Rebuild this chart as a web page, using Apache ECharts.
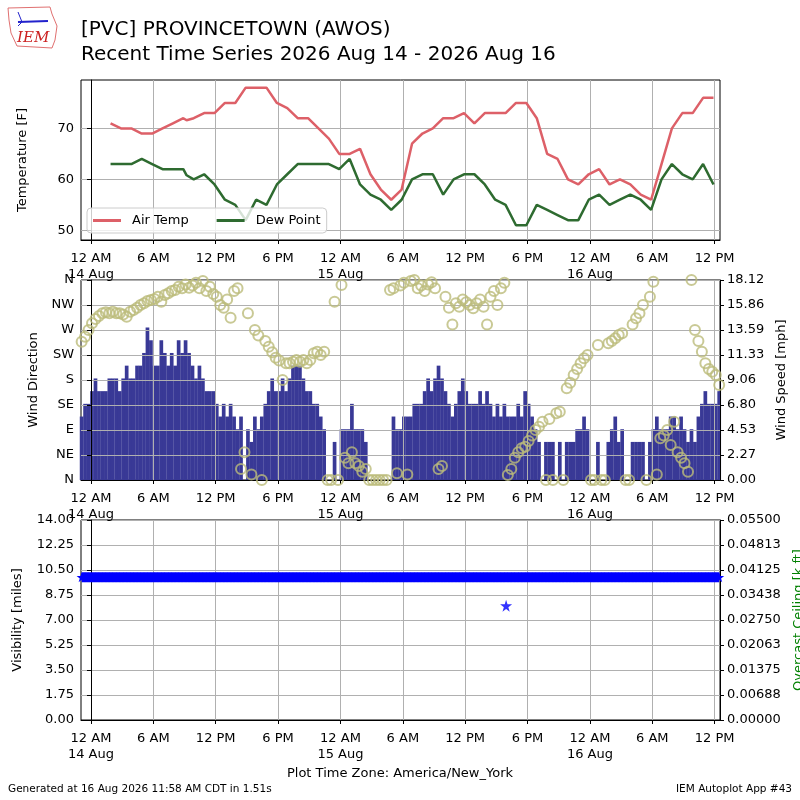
<!DOCTYPE html>
<html>
<head>
<meta charset="utf-8">
<script src="https://cdn.jsdelivr.net/npm/echarts@6/dist/echarts.min.js"></script>
<style>
html, body { margin: 0; padding: 0; background: #fff; }
#chart { width: 800px; height: 800px; }
</style>
</head>
<body>
<div id="chart"></div>
<script>
const FONT = "DejaVu Sans";

// hourly obs (plus one special) — "day hh:mm", Aug 2026, local time
const tempTimes = [
  "14 01:53", "14 02:53", "14 03:53", "14 04:53", "14 05:53", "14 06:53", "14 07:53", "14 08:53", "14 09:12", "14 09:53", "14 10:53", "14 11:53",
  "14 12:53", "14 13:53", "14 14:53", "14 15:53", "14 16:53", "14 17:53", "14 18:53", "14 19:53", "14 20:53", "14 21:53", "14 22:53", "14 23:53",
  "15 00:53", "15 01:53", "15 02:53", "15 03:53", "15 04:53", "15 05:53", "15 06:53", "15 07:53", "15 08:53", "15 09:53", "15 10:53", "15 11:53",
  "15 12:53", "15 13:53", "15 14:53", "15 15:53", "15 16:53", "15 17:53", "15 18:53", "15 19:53", "15 20:53", "15 21:53", "15 22:53", "15 23:53",
  "16 00:53", "16 01:53", "16 02:53", "16 03:53", "16 04:53", "16 05:53", "16 06:53", "16 07:53", "16 08:53", "16 09:53", "16 10:53", "16 11:53"
];
const airTemp = [
  71, 70, 70, 69, 69, 70, 71, 72, 71.6, 72, 73, 73,
  75, 75, 78, 78, 78, 75, 74, 72, 72, 70, 68, 65,
  65, 66, 61, 58, 56, 58, 67, 69, 70, 72, 72, 73,
  71, 73, 73, 73, 75, 75, 72, 65, 64, 60, 59, 61,
  62, 59, 60, 59, 57, 56, 63, 70, 73, 73, 76, 76
];
const dewPoint = [
  63, 63, 63, 64, 63, 62, 62, 62, 60.8, 60, 61, 59,
  56, 55, 52, 56, 55, 59, 61, 63, 63, 63, 63, 62,
  64, 59, 57, 56, 54, 56, 60, 61, 61, 57, 60, 61,
  61, 59, 56, 55, 51, 51, 55, 54, 53, 52, 52, 56,
  57, 55, 56, 57, 56, 54, 60, 63, 61, 60, 63, 59
];

// 20 minute wind / visibility obs starting 13 Aug 23:06
const obsStart = "13 23:06";
const obsStepMinutes = 20;
const windSpeed = [ // mph, 4 hours per row
  5.75, 6.9, 6.9, 8.05, 9.2, 8.05, 8.05, 8.05, 9.2, 9.2, 9.2, 8.05,
  9.2, 10.36, 9.2, 9.2, 10.36, 10.36, 11.51, 13.81, 12.66, 10.36, 10.36, 12.66,
  11.51, 10.36, 11.51, 10.36, 12.66, 11.51, 12.66, 11.51, 10.36, 9.2, 10.36, 9.2,
  8.05, 8.05, 8.05, 6.9, 5.75, 6.9, 5.75, 6.9, 5.75, 4.6, 5.75, 0,
  4.6, 3.45, 5.75, 4.6, 5.75, 6.9, 8.05, 9.2, 8.05, 8.05, 9.2, 8.05,
  9.2, 10.36, 10.36, 10.36, 9.2, 8.05, 8.05, 6.9, 6.9, 5.75, 4.6, 0,
  0, 3.45, 0, 4.6, 4.6, 4.6, 6.9, 4.6, 4.6, 4.6, 3.45, 0,
  0, 0, 0, 0, 0, 0, 5.75, 4.6, 4.6, 5.75, 5.75, 5.75,
  6.9, 6.9, 6.9, 8.05, 9.2, 8.05, 9.2, 10.36, 9.2, 8.05, 6.9, 5.75,
  6.9, 8.05, 9.2, 8.05, 6.9, 6.9, 6.9, 8.05, 6.9, 8.05, 6.9, 5.75,
  6.9, 5.75, 6.9, 5.75, 5.75, 5.75, 6.9, 5.75, 8.05, 6.9, 5.75, 4.6,
  3.45, 0, 3.45, 3.45, 3.45, 0, 3.45, 0, 3.45, 3.45, 3.45, 4.6,
  4.6, 5.75, 4.6, 0, 0, 3.45, 0, 0, 3.45, 4.6, 5.75, 3.45,
  4.6, 0, 0, 3.45, 3.45, 3.45, 3.45, 0, 3.45, 4.6, 5.75, 4.6,
  4.6, 4.6, 5.75, 5.75, 4.6, 5.75, 4.6, 3.45, 4.6, 3.45, 5.75, 6.9,
  8.05, 6.9, 6.9, 6.9, 8.05
];
const windDir = [ // degrees
  249, 258, 270, 282, 290, 295, 300, 302, 300, 303, 300, 300,
  298, 294, 303, 306, 310, 315, 318, 322, 324, 326, 330, 321,
  333, 336, 340, 342, 348, 345, 352, 346, 350, 355, 345, 358,
  340, 348, 335, 330, 315, 310, 325, 292, 340, 345, 20, 50,
  300, 10, 270, 260, 0, 250, 240, 230, 220, 215, 180, 210,
  210, 213, 216, 213, 216, 210, 216, 228, 231, 225, 231, 0,
  0, 321, 0, 351, 40, 30, 50, 30, 25, 15, 20, 0,
  0, 0, 0, 0, 0, 342, 345, 12, 350, 355, 10, 358,
  360, 345, 350, 340, 352, 356, 345, 20, 25, 330, 310, 280,
  318, 312, 325, 320, 315, 309, 318, 325, 312, 280, 330, 340,
  315, 345, 355, 9, 20, 40, 50, 57, 60, 70, 80, 90,
  96, 105, 0, 110, 0, 120, 123, 0, 165, 175, 189, 200,
  210, 219, 225, 0, 0, 243, 0, 0, 246, 250, 255, 261,
  264, 0, 0, 280, 291, 300, 315, 0, 330, 357, 10, 75,
  80, 90, 63, 105, 50, 40, 30, 15, 360, 270, 250, 231,
  210, 200, 195, 189, 171
];
const visibility = [ // miles
  10, 10, 10, 10, 10, 10, 10, 10, 10, 10, 10, 10, 10, 10, 10, 10, 10, 10, 10, 10, 10, 10, 10, 10, 10, 10, 10, 10, 10, 10, 10, 10, 10, 10, 10, 10, 10,
  10, 10, 10, 10, 10, 10, 10, 10, 10, 10, 10, 10, 10, 10, 10, 10, 10, 10, 10, 10, 10, 10, 10, 10, 10, 10, 10, 10, 10, 10, 10, 10, 10, 10, 10, 10, 10,
  10, 10, 10, 10, 10, 10, 10, 10, 10, 10, 10, 10, 10, 10, 10, 10, 10, 10, 10, 10, 10, 10, 10, 10, 10, 10, 10, 10, 10, 10, 10, 10, 10, 10, 10, 10, 10,
  10, 10, 10, 10, 10, 10, 10, 10, 10, 10, 10, 10, 10, 10, 10, 10, 10, 10, 10, 10, 10, 10, 10, 10, 10, 10, 10, 10, 10, 10, 10, 10, 10, 10, 10, 10, 10,
  10, 10, 10, 10, 10, 10, 10, 10, 10, 10, 10, 10, 10, 10, 10, 10, 10, 10, 10, 10, 10, 10, 10, 10, 10, 10, 10, 10, 10, 10, 10, 10, 10, 10, 10, 10, 10
];
const visSpecialTimes = ["15 15:56"];
const visSpecialValues = [8];

// axes
const timeTicks = [0, 6, 12, 18, 24, 30, 36, 42, 48, 54, 60];
const tempTicks = [50, 60, 70];
const dirLabels = ["N", "NE", "E", "SE", "S", "SW", "W", "NW", "N"];
const speedLabels = ["0.00", "2.27", "4.53", "6.80", "9.06", "11.33", "13.59", "15.86", "18.12"];
const ceilingLabels = ["0.00000", "0.00688", "0.01375", "0.02063", "0.02750", "0.03438", "0.04125", "0.04813", "0.05500"];
const X_MIN = -0.96, X_MAX = 60.51;

const STAR = "path://M50,0 L61,35 L98,35 L68,57 L79,91 L50,70 L21,91 L32,57 L2,35 L39,35 Z";
const LEGEND_LINE = "path://M0,0 H28 V3 H0 Z";

const toHours = s => {
  const [d, hm] = s.split(" ");
  const [h, m] = hm.split(":").map(Number);
  return (Number(d) - 14) * 24 + h + m / 60;
};
const obsTime = k => toHours(obsStart) + k * obsStepMinutes / 60;

const timeLabel = v => {
  const hour = ((v % 24) + 24) % 24;
  const day = 14 + Math.floor(v / 24);
  const clock = hour === 0 ? "12 AM" : hour < 12 ? `${hour} AM` : hour === 12 ? "12 PM" : `${hour - 12} PM`;
  return hour === 0 ? `${clock}\n${day} Aug` : clock;
};

const gridLine = { show: true, lineStyle: { color: "#b0b0b0", width: 1 } };
const black = { lineStyle: { color: "#000", width: 1 } };
const label = { color: "#000", fontSize: 13, fontFamily: FONT };
const axisName = { color: "#000", fontSize: 13, fontFamily: FONT };

const grids = [
  { top: 80, height: 160 },
  { top: 280, height: 200 },
  { top: 520, height: 200 }
].map(g => ({ ...g, left: 81, right: 80, show: true, borderColor: "#000", borderWidth: 1, outerBoundsMode: "none" }));

const xAxes = [0, 1, 2].map(i => ({
  type: "value", gridIndex: i, min: X_MIN, max: X_MAX, z: 3,
  axisLine: { onZero: false, ...black },
  axisTick: { customValues: timeTicks, length: 4, ...black },
  axisLabel: { ...label, customValues: timeTicks, formatter: timeLabel, lineHeight: 16.5, margin: 10 },
  splitLine: gridLine
}));

const yAxes = [
  { type: "value", gridIndex: 0, min: 48.1, max: 79.5, z: 3,
    axisLine: black, axisTick: { customValues: tempTicks, length: 4, ...black },
    axisLabel: { ...label, customValues: tempTicks, margin: 7 }, splitLine: gridLine,
    name: "Temperature [F]", nameLocation: "middle", nameRotate: 90, nameGap: 52, nameTextStyle: axisName },
  { type: "value", gridIndex: 1, min: 0, max: 360, interval: 45, z: 3,
    axisLine: black, axisTick: { length: 4, ...black },
    axisLabel: { ...label, margin: 7, formatter: v => dirLabels[Math.round(v / 45)] }, splitLine: gridLine,
    name: "Wind Direction", nameLocation: "middle", nameRotate: 90, nameGap: 40, nameTextStyle: axisName },
  { type: "value", gridIndex: 1, position: "right", min: 0, max: 18.12, interval: 2.265, z: 3,
    axisLine: black, axisTick: { length: 4, ...black },
    axisLabel: { ...label, margin: 7, formatter: v => speedLabels[Math.round(v / 2.265)] }, splitLine: { show: false },
    name: "Wind Speed [mph]", nameLocation: "middle", nameRotate: 90, nameGap: 54, nameTextStyle: axisName },
  { type: "value", gridIndex: 2, min: 0, max: 14, interval: 1.75, z: 3,
    axisLine: black, axisTick: { length: 4, ...black },
    axisLabel: { ...label, margin: 7, formatter: v => v.toFixed(2) }, splitLine: gridLine,
    name: "Visibility [miles]", nameLocation: "middle", nameRotate: 90, nameGap: 57, nameTextStyle: axisName },
  { type: "value", gridIndex: 2, position: "right", min: 0, max: 0.055, interval: 0.006875, z: 3,
    axisLine: black, axisTick: { length: 4, ...black },
    axisLabel: { ...label, margin: 7, formatter: v => ceilingLabels[Math.round(v / 0.006875)] }, splitLine: { show: false },
    name: "Overcast Ceiling [k ft]", nameLocation: "middle", nameRotate: 90, nameGap: 71, nameTextStyle: { ...axisName, color: "#008000" } }
];

const text = (x, y, str, size, extra = {}) => ({
  type: "text", x, y, z: 10,
  style: { text: str, fill: "#000", font: `${size}px '${FONT}'`, verticalAlign: "middle", ...extra }
});

const chart = echarts.init(document.getElementById("chart"), null, { renderer: "canvas" });
chart.setOption({
  animation: false,
  backgroundColor: "#fff",
  textStyle: { fontFamily: FONT },
  grid: grids,
  xAxis: xAxes,
  yAxis: yAxes,
  legend: {
    data: [{ name: "Air Temp", icon: LEGEND_LINE }, { name: "Dew Point", icon: LEGEND_LINE }],
    left: 87, top: 208, padding: [5, 6], itemWidth: 28, itemHeight: 3, itemGap: 28,
    backgroundColor: "rgba(255,255,255,0.8)", borderColor: "#cccccc", borderWidth: 1, borderRadius: 4,
    textStyle: { fontSize: 13, color: "#000", fontFamily: FONT, padding: [0, 0, 0, 6], lineHeight: 15 }
  },
  graphic: [
    text(81, 30, "[PVC] PROVINCETOWN (AWOS)", 20),
    text(81, 55, "Recent Time Series 2026 Aug 14 - 2026 Aug 16", 20),
    text(400, 774, "Plot Time Zone: America/New_York", 13, { align: "center" }),
    text(8, 789, "Generated at 16 Aug 2026 11:58 AM CDT in 1.51s", 10.5),
    text(792, 789, "IEM Autoplot App #43", 10.5, { align: "right" }),
    { type: "polygon", z: 10, shape: { points: [[8, 8], [50, 7], [52, 14], [57, 26], [55, 40], [52, 48], [17, 46], [11, 33], [9, 20]] },
      style: { fill: "none", stroke: "#e07070", lineWidth: 1 } },
    { type: "polyline", z: 10, shape: { points: [[18, 22], [48, 21]] }, style: { stroke: "#2222cc", lineWidth: 2 } },
    { type: "polyline", z: 10, shape: { points: [[18, 12], [22, 22], [18, 26]] }, style: { fill: "none", stroke: "#2222cc", lineWidth: 1 } },
    text(17, 38, "IEM", 15, { fill: "#cc2222", font: "italic 15px 'DejaVu Serif'" })
  ],
  series: [
    { name: "Air Temp", type: "line", xAxisIndex: 0, yAxisIndex: 0, symbol: "none",
      data: tempTimes.map((t, i) => [toHours(t), airTemp[i]]),
      lineStyle: { color: "#dd6068", width: 2.5 }, itemStyle: { color: "#dd6068" } },
    { name: "Dew Point", type: "line", xAxisIndex: 0, yAxisIndex: 0, symbol: "none",
      data: tempTimes.map((t, i) => [toHours(t), dewPoint[i]]),
      lineStyle: { color: "#2e6b30", width: 2.5 }, itemStyle: { color: "#2e6b30" } },
    { name: "Wind Speed", type: "bar", xAxisIndex: 1, yAxisIndex: 2, barWidth: 3.7, z: 2,
      data: windSpeed.map((v, k) => [obsTime(k), v]),
      itemStyle: { color: "#393996" } },
    { name: "Wind Direction", type: "scatter", xAxisIndex: 1, yAxisIndex: 1, z: 5,
      symbol: "circle", symbolSize: 10,
      data: windDir.map((v, k) => [obsTime(k), v]),
      itemStyle: { color: "rgba(0,0,0,0)", borderColor: "#bcbb7b", borderWidth: 2 } },
    { name: "Visibility", type: "line", xAxisIndex: 2, yAxisIndex: 3, z: 5,
      symbol: STAR, symbolSize: 10, showAllSymbol: true,
      data: visibility.map((v, k) => [obsTime(k), v]),
      lineStyle: { color: "#0000ff", width: 10 }, itemStyle: { color: "#0000ff" } },
    { name: "Visibility Special", type: "scatter", xAxisIndex: 2, yAxisIndex: 3, z: 5,
      symbol: STAR, symbolSize: 12,
      data: visSpecialTimes.map((t, i) => [toHours(t), visSpecialValues[i]]),
      itemStyle: { color: "#0000ff" } }
  ]
});
</script>
</body>
</html>
